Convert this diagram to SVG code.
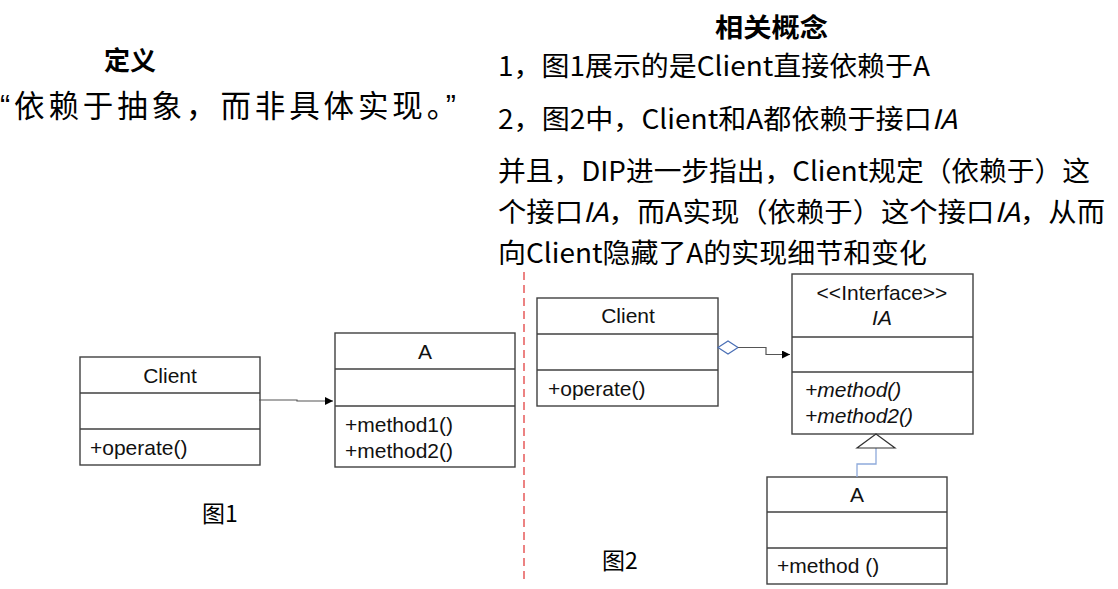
<svg xmlns="http://www.w3.org/2000/svg" width="1118" height="589" viewBox="0 0 1118 589">
<defs>
<style>
.cn{font-family:"Noto Sans CJK SC","Liberation Sans",sans-serif;fill:#000;}
.t27{font-size:27px;}
.b{font-weight:bold;font-size:26px;}
.q{font-family:"Liberation Sans",sans-serif;}
.cls{font-family:"Liberation Sans","Noto Sans CJK SC",sans-serif;font-size:21px;fill:#111;}
.box{fill:#fff;stroke:#404040;stroke-width:1.4;}
.div{stroke:#404040;stroke-width:1.4;}
.conn{fill:none;stroke:#555;stroke-width:1.2;}
</style>
<marker id="arr" markerWidth="10" markerHeight="10" refX="8" refY="4" orient="auto" markerUnits="userSpaceOnUse">
<path d="M0,0 L8,4 L0,8 Z" fill="#000"/>
</marker>
</defs>

<g id="texts">
<text class="cn b" x="130" y="70" text-anchor="middle">定义</text>
<text class="cn" x="0" y="117" font-size="30.5" textLength="456" lengthAdjust="spacing"><tspan class="q">“</tspan>依赖于抽象，而非具体实现。<tspan class="q">”</tspan></text>
<text class="cn b" x="715" y="37" textLength="113" lengthAdjust="spacingAndGlyphs">相关概念</text>
<text class="cn t27" x="498" y="76" textLength="432" lengthAdjust="spacingAndGlyphs">1，图1展示的是Client直接依赖于A</text>
<text class="cn t27" x="498" y="129" textLength="459" lengthAdjust="spacingAndGlyphs">2，图2中，Client和A都依赖于接口<tspan font-style="italic">IA</tspan></text>
<text class="cn t27" x="498" y="181" textLength="592" lengthAdjust="spacingAndGlyphs">并且，DIP进一步指出，Client规定（依赖于）这</text>
<text class="cn t27" x="498" y="222" textLength="607" lengthAdjust="spacingAndGlyphs">个接口<tspan font-style="italic">IA</tspan>，而A实现（依赖于）这个接口<tspan font-style="italic">IA</tspan>，从而</text>
<text class="cn t27" x="498" y="263" textLength="429" lengthAdjust="spacingAndGlyphs">向Client隐藏了A的实现细节和变化</text>
<text class="cn" x="220" y="522" font-size="23" text-anchor="middle">图1</text>
<text class="cn" x="620" y="569" font-size="23" text-anchor="middle">图2</text>
</g>

<line id="separator" x1="524" y1="272" x2="524" y2="582" stroke="#e03030" stroke-width="1.2" stroke-dasharray="8,5"/>

<g id="client1">
<rect class="box" x="80" y="357" width="180" height="108"/>
<line class="div" x1="80" y1="393" x2="260" y2="393"/>
<line class="div" x1="80" y1="429" x2="260" y2="429"/>
<text class="cls" x="170" y="383" text-anchor="middle">Client</text>
<text class="cls" x="90" y="455">+operate()</text>
</g>

<g id="a1">
<rect class="box" x="335" y="333" width="180" height="134"/>
<line class="div" x1="335" y1="369" x2="515" y2="369"/>
<line class="div" x1="335" y1="406" x2="515" y2="406"/>
<text class="cls" x="425" y="359" text-anchor="middle">A</text>
<text class="cls" x="345" y="432" font-size="21.5">+method1()</text>
<text class="cls" x="345" y="458" font-size="21.5">+method2()</text>
</g>

<g id="client2">
<rect class="box" x="537" y="298" width="181" height="108"/>
<line class="div" x1="537" y1="334" x2="718" y2="334"/>
<line class="div" x1="537" y1="370" x2="718" y2="370"/>
<text class="cls" x="628" y="323" text-anchor="middle">Client</text>
<text class="cls" x="548" y="396">+operate()</text>
</g>

<g id="ia">
<rect class="box" x="792" y="274" width="181" height="160"/>
<line class="div" x1="792" y1="337" x2="973" y2="337"/>
<line class="div" x1="792" y1="372" x2="973" y2="372"/>
<text class="cls" x="882" y="300" text-anchor="middle" font-size="18.5">&lt;&lt;Interface&gt;&gt;</text>
<text class="cls" x="882" y="325" text-anchor="middle" font-style="italic">IA</text>
<text class="cls" x="805" y="397" font-style="italic">+method()</text>
<text class="cls" x="805" y="423" font-style="italic">+method2()</text>
</g>

<g id="a2">
<rect class="box" x="767" y="477" width="180" height="107"/>
<line class="div" x1="767" y1="512" x2="947" y2="512"/>
<line class="div" x1="767" y1="548" x2="947" y2="548"/>
<text class="cls" x="857" y="502" text-anchor="middle">A</text>
<text class="cls" x="777" y="573">+method ()</text>
</g>

<g id="connectors">
<polyline class="conn" points="259,400 297,400 297,401 333,401" marker-end="url(#arr)"/>
<polygon points="718,347.5 728,341 738,347.5 728,354" fill="#fff" stroke="#4a6fb5" stroke-width="1.2"/>
<polyline class="conn" points="738,347.5 766,347.5 766,354.5 790,354.5" marker-end="url(#arr)"/>
<polyline fill="none" stroke="#8eaadb" stroke-width="1.3" points="876,448 876,464 857,464 857,477"/>
<polygon points="876,434 857,448 895,448" fill="#fff" stroke="#333" stroke-width="1.2"/>
</g>
</svg>
